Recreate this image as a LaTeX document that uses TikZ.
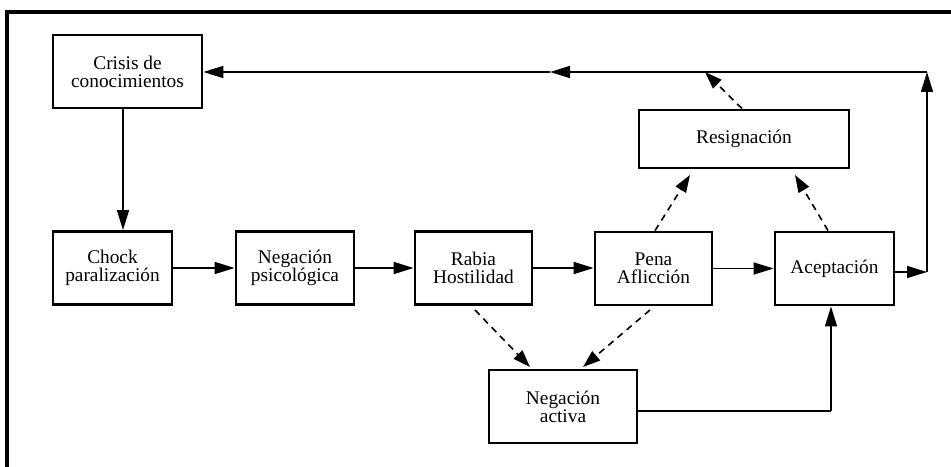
\documentclass[tikz,border=0pt]{standalone}
\usepackage{fontspec}
\setmainfont{Liberation Serif}
\usetikzlibrary{arrows.meta}
\begin{document}
\begin{tikzpicture}[x=0.75pt,y=-0.75pt,
  box/.style={draw,line width=2.1pt,inner sep=0pt,align=center,
    font=\fontsize{14.5}{13.5}\selectfont,minimum height=73*0.75pt},
  conn/.style={line width=1.2pt,-{Triangle[length=15pt,width=9pt]}},
  plain/.style={line width=1.2pt},
  dconn/.style={line width=1.2pt,dash pattern=on 5pt off 4pt,-{Triangle[length=13pt,width=9pt]}}]
\useasboundingbox (0,0) rectangle (951,467);
\draw[line width=2.4pt] (7,467) -- (7,12) -- (951,12);
\node[box,minimum width=149*0.75pt] (crisis) at (127.5,71.5) {Crisis de\\conocimientos};
\node[box,minimum width=119*0.75pt] (chock) at (112.5,268) {Chock\\paralización};
\node[box,minimum width=118*0.75pt] (negp) at (295,268) {Negación\\psicológica};
\node[box,minimum width=117*0.75pt] (rabia) at (473.5,268) {Rabia\\Hostilidad};
\node[box,minimum width=117*0.75pt] (pena) at (653.5,268.5) {Pena\\Aflicción};
\node[box,minimum width=119*0.75pt] (acep) at (834.5,268.5) {Aceptación};
\node[box,minimum width=148*0.75pt] (nega) at (563,406.5) {Negación\\activa};
\node[box,minimum width=210*0.75pt,minimum height=58*0.75pt] (resig) at (744,139) {Resignación};
\coordinate (r1) at (927,272);
\coordinate (r2) at (927,72);
\coordinate (tm) at (550,72);
\coordinate (tres) at (705,72);
\coordinate (b1) at (831,411);
\draw[conn] (crisis.south -| 123,0) -- (chock.north -| 123,0);
\draw[conn] (chock.east) -- (negp.west);
\draw[conn] (negp.east) -- (rabia.west);
\draw[conn] (rabia.east) -- (rabia.east -| pena.west);
\draw[conn] (pena.east) -- (acep.west);
\draw[conn] (acep.east |- r1) -- (r1);
\draw[conn] (r1) -- (r2);
\draw[conn] (r2) -- (tm);
\draw[conn] (tm) -- (crisis.east |- tm);
\draw[plain] (nega.east |- b1) -- (b1);
\draw[conn] (b1) -- (acep.south -| b1);
\draw[dconn] (resig.north -| 742,0) -- (tres);
\draw[dconn] (pena.north -| 655,0) -- (690,175);
\draw[dconn] (acep.north -| 828,0) -- (795,175);
\draw[dconn] (475,310) -- (530,367);
\draw[dconn] (650,310) -- (583,367);
\end{tikzpicture}
\end{document}
